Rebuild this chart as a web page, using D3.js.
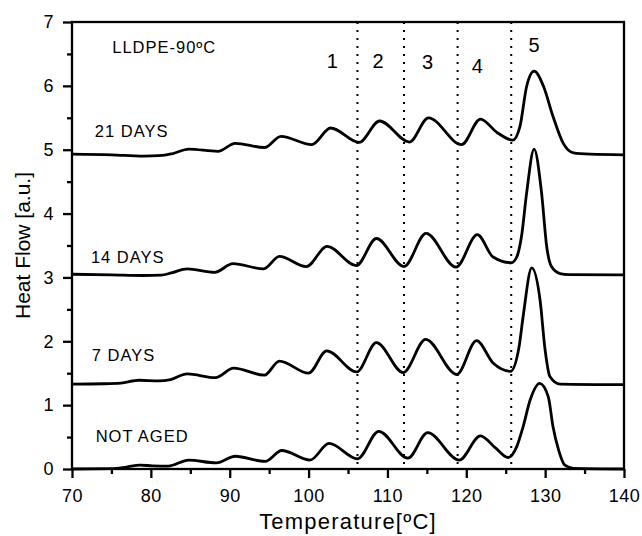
<!DOCTYPE html>
<html>
<head>
<meta charset="utf-8">
<script src="https://cdn.jsdelivr.net/npm/d3@7"></script>
<style>
  body { margin: 0; background: #fff; }
  text { font-family: "Liberation Sans", Arial, sans-serif; fill: #000; }
</style>
</head>
<body>
<script>
// Constantes de la visualización.
const WIDTH = 642;
const HEIGHT = 536;
const MARGIN = { top: 22, bottom: 67, left: 72, right: 18 };

const HEIGHTVIS = HEIGHT - MARGIN.top - MARGIN.bottom;
const WIDTHVIS = WIDTH - MARGIN.left - MARGIN.right;

// Datos: [temperatura ºC, flujo de calor u.a.]
const notAged = [
  [70, 0.0], [75, 0.005], [76.9, 0.03], [78.6, 0.06], [80.2, 0.05], [82.2, 0.045],
  [84.8, 0.14], [88.3, 0.095], [90.7, 0.2], [94.5, 0.12], [96.6, 0.29], [100.2, 0.14],
  [102.6, 0.4], [106.2, 0.16], [108.9, 0.59], [112.6, 0.17], [115.1, 0.57], [119.1, 0.14],
  [121.8, 0.52], [123.7, 0.33], [125.3, 0.18], [126.4, 0.35], [127.2, 0.66], [128.1, 1.08],
  [129.3, 1.34], [130.4, 1.13], [131.0, 0.66], [131.7, 0.3], [132.5, 0.06], [133.6, 0.01],
  [140, 0.0]
];

const dias7 = [
  [70, 1.33], [74, 1.335], [76.2, 1.345], [78.5, 1.39], [81.0, 1.38], [82.5, 1.4],
  [84.6, 1.49], [88.2, 1.43], [90.5, 1.58], [94.4, 1.47], [96.3, 1.69], [100, 1.5],
  [102.3, 1.85], [106.1, 1.52], [108.6, 1.98], [112.0, 1.51], [114.85, 2.03], [118.8, 1.48],
  [121.3, 2.01], [123.4, 1.66], [125.6, 1.53], [126.7, 1.92], [127.2, 2.38], [128.3, 3.15],
  [129.35, 2.65], [130.0, 1.86], [130.6, 1.45], [131.9, 1.33], [140, 1.32]
];

const dias14 = [
  [70, 3.05], [75, 3.04], [79, 3.03], [81.3, 3.035], [82.6, 3.07], [84.6, 3.135],
  [88.1, 3.08], [90.4, 3.215], [94.3, 3.135], [96.3, 3.33], [99.7, 3.17], [102.35, 3.485],
  [106.05, 3.185], [108.6, 3.61], [112.1, 3.17], [114.9, 3.69], [118.7, 3.16], [121.4, 3.67],
  [123.4, 3.32], [125.7, 3.23], [126.4, 3.32], [127.0, 3.64], [127.65, 4.32], [128.6, 5.01],
  [129.55, 4.32], [130.2, 3.48], [130.8, 3.17], [131.9, 3.06], [133, 3.045], [140, 3.04]
];

const dias21 = [
  [70, 4.93], [75, 4.92], [79, 4.9], [81.5, 4.91], [82.8, 4.94], [84.8, 5.01],
  [88.5, 4.975], [90.7, 5.1], [94.4, 5.035], [96.5, 5.21], [100.4, 5.08], [102.8, 5.34],
  [106.4, 5.115], [109.0, 5.45], [112.8, 5.12], [115.2, 5.5], [119.4, 5.08], [121.8, 5.48],
  [123.9, 5.27], [125.9, 5.15], [126.8, 5.36], [127.65, 5.99], [128.6, 6.23], [129.8, 5.99],
  [131.0, 5.52], [132.3, 5.1], [133.6, 4.95], [135.7, 4.93], [140, 4.92]
];

const series = [notAged, dias7, dias14, dias21];
const nombresSeries = ["NOT AGED", "7 DAYS", "14 DAYS", "21 DAYS"];

// Límites entre zonas (líneas punteadas) y nombres de zonas.
const limitesZonas = [106.2, 112.1, 118.9, 125.7];
const nombresZonas = ["1", "2", "3", "4", "5"];

// Ticks de los ejes.
const ticksX = [70, 80, 90, 100, 110, 120, 130, 140];
const ticksXMenores = [75, 85, 95, 105, 115, 125, 135];
const ticksY = [0, 1, 2, 3, 4, 5, 6, 7];
const ticksYMenores = [0.5, 1.5, 2.5, 3.5, 4.5, 5.5, 6.5];

// Posiciones (en unidades de datos) de los textos.
const posSeries = [[73.0, 0.42], [72.5, 1.69], [72.4, 3.23], [72.9, 5.2]];
const posZonas = [[103.0, 6.28], [108.8, 6.28], [115.1, 6.26], [121.4, 6.2], [128.6, 6.53]];

const svg = d3.select("body")
  .append("svg")
  .attr("width", WIDTH)
  .attr("height", HEIGHT);

const contenedorVis = svg.append("g")
  .attr("transform", `translate(${MARGIN.left}, ${MARGIN.top})`);

// Escalas
const escalaX = d3.scaleLinear().domain([70, 140]).range([0, WIDTHVIS]);
const escalaY = d3.scaleLinear().domain([0, 7]).range([HEIGHTVIS, 0]);

// Ejes mayores y menores
const formato = d3.format("d");
const ejeX = d3.axisBottom(escalaX).tickValues(ticksX).tickFormat(formato)
  .tickSizeInner(9).tickSizeOuter(0).tickPadding(11);
const ejeXMenor = d3.axisBottom(escalaX).tickValues(ticksXMenores).tickFormat("")
  .tickSizeInner(5).tickSizeOuter(0);
const ejeY = d3.axisLeft(escalaY).tickValues(ticksY).tickFormat(formato)
  .tickSizeInner(9).tickSizeOuter(0).tickPadding(9);
const ejeYMenor = d3.axisLeft(escalaY).tickValues(ticksYMenores).tickFormat("")
  .tickSizeInner(5).tickSizeOuter(0);

const contenedorEjeX = contenedorVis.append("g")
  .attr("transform", `translate(0, ${HEIGHTVIS})`);
const contenedorEjeY = contenedorVis.append("g");

// Dibujamos cada eje y ajustamos su estilo
[[contenedorEjeX, ejeX], [contenedorEjeX, ejeXMenor],
 [contenedorEjeY, ejeY], [contenedorEjeY, ejeYMenor]]
  .forEach(([cont, eje]) => {
    const g = cont.append("g").call(eje);
    g.select(".domain").remove();
    g.selectAll(".tick line")
      .attr("stroke", "#000")
      .attr("stroke-width", 2.3);
    g.selectAll(".tick text")
      .attr("font-size", 18)
      .attr("letter-spacing", 0.5)
      .attr("font-family", "Liberation Sans, Arial, sans-serif");
  });

// Líneas punteadas entre zonas
contenedorVis.selectAll(".limite")
  .data(limitesZonas)
  .join("line")
  .attr("class", "limite")
  .attr("x1", (d) => escalaX(d))
  .attr("x2", (d) => escalaX(d))
  .attr("y1", 0)
  .attr("y2", HEIGHTVIS)
  .attr("stroke", "#000")
  .attr("stroke-width", 2)
  .attr("stroke-dasharray", "2,6");

// Curvas DSC
const linea = d3.line()
  .x((d) => escalaX(d[0]))
  .y((d) => escalaY(d[1]))
  .curve(d3.curveMonotoneX);

contenedorVis.selectAll(".curva")
  .data(series)
  .join("path")
  .attr("class", "curva")
  .attr("d", linea)
  .attr("fill", "none")
  .attr("stroke", "#000")
  .attr("stroke-width", 2.8)
  .attr("stroke-linejoin", "round");

// Marco
contenedorVis.append("rect")
  .attr("width", WIDTHVIS)
  .attr("height", HEIGHTVIS)
  .attr("fill", "none")
  .attr("stroke", "#000")
  .attr("stroke-width", 2.3);

// Nombres de las series
contenedorVis.selectAll(".nombre")
  .data(nombresSeries)
  .join("text")
  .attr("class", "nombre")
  .attr("x", (d, i) => escalaX(posSeries[i][0]))
  .attr("y", (d, i) => escalaY(posSeries[i][1]))
  .attr("font-size", 16.5)
  .attr("letter-spacing", 1)
  .text((d) => d);

// Números de zonas
contenedorVis.selectAll(".zona")
  .data(nombresZonas)
  .join("text")
  .attr("class", "zona")
  .attr("x", (d, i) => escalaX(posZonas[i][0]))
  .attr("y", (d, i) => escalaY(posZonas[i][1]))
  .attr("text-anchor", "middle")
  .attr("font-size", 20)
  .text((d) => d);

// Título interno
contenedorVis.append("text")
  .attr("x", escalaX(75.1))
  .attr("y", escalaY(6.51))
  .attr("font-size", 16.5)
  .attr("letter-spacing", 1)
  .text("LLDPE-90ºC");

// Títulos de los ejes
svg.append("text")
  .attr("x", MARGIN.left + WIDTHVIS / 2)
  .attr("y", 529)
  .attr("text-anchor", "middle")
  .attr("font-size", 22)
  .attr("letter-spacing", 1.2)
  .text("Temperature[ºC]");

svg.append("text")
  .attr("transform", `translate(30, ${MARGIN.top + HEIGHTVIS / 2}) rotate(-90)`)
  .attr("text-anchor", "middle")
  .attr("font-size", 21)
  .text("Heat Flow [a.u.]");
</script>
</body>
</html>
